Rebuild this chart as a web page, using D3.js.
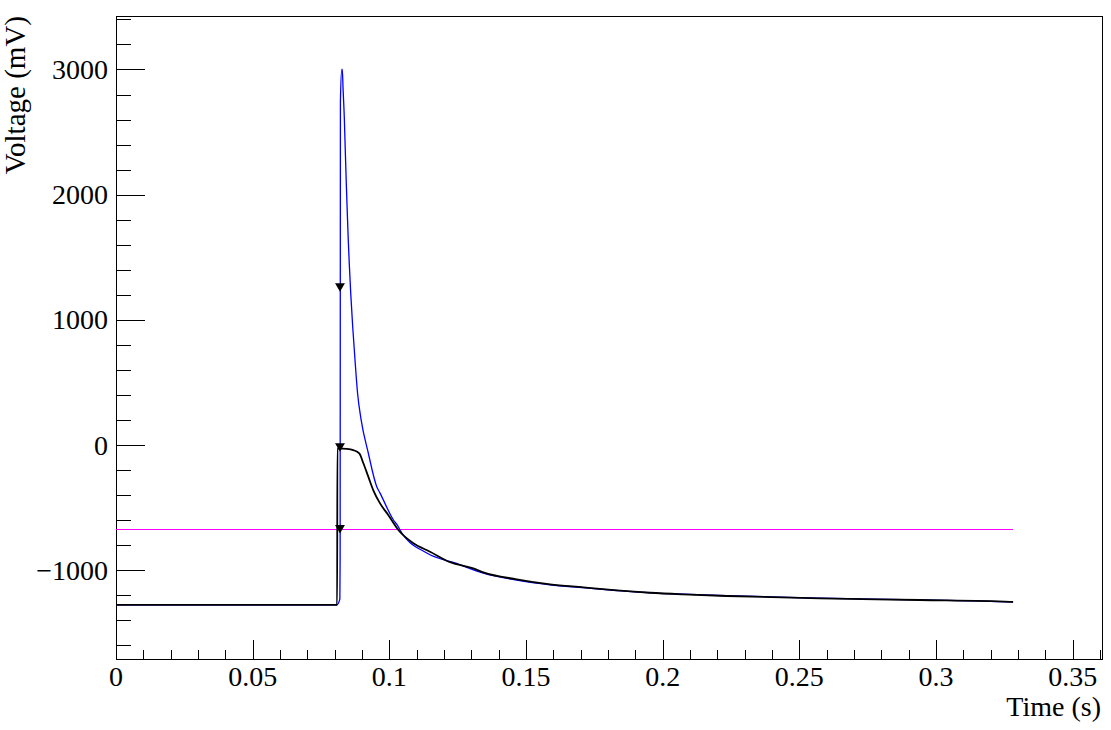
<!DOCTYPE html>
<html>
<head>
<meta charset="utf-8">
<script src="https://cdn.jsdelivr.net/npm/d3@7"></script>
<style>
  html, body { margin: 0; padding: 0; background: #fff; }
  svg { display: block; }
  text { font-family: "Liberation Serif", "Times New Roman", serif; fill: #000; }
</style>
</head>
<body>
<svg id="chart" width="1111" height="730"></svg>
<script>
// ---- data ----
const blueT = [0, 0.0808, 0.0819, 0.0820, 0.0821, 0.0826, 0.0828, 0.08305, 0.08353, 0.08389, 0.08426, 0.08462, 0.08499, 0.08535, 0.08587, 0.08660, 0.08744, 0.08837, 0.0897, 0.0923, 0.0954, 0.0966, 0.1015, 0.1033, 0.1039, 0.1137, 0.1246, 0.1344, 0.1466, 0.1588, 0.1710, 0.1832, 0.1954, 0.2075, 0.2234, 0.2576, 0.2941, 0.3271, 0.3282];
const blueV = [-1275, -1275, -1230, -900, 2740, 3000, 3000, 2859, 2612, 2348, 2085, 1853, 1630, 1446, 1214, 946, 680, 416, 200, -63, -332, -383, -598, -652, -678, -862, -945, -1022, -1078, -1115, -1138, -1161, -1180, -1190, -1203, -1222, -1236, -1252, -1253];

const blackT = [0, 0.0809, 0.0810, 0.0845, 0.0868, 0.0890, 0.0905, 0.0923, 0.0941, 0.0966, 0.0996, 0.1033, 0.1088, 0.1149, 0.1222, 0.1307, 0.1344, 0.1466, 0.1588, 0.1710, 0.1832, 0.1954, 0.2075, 0.2234, 0.2576, 0.2941, 0.3271, 0.3282];
const blackV = [-1275, -1275, -26, -30, -40, -66, -145, -252, -359, -465, -558, -678, -784, -851, -935, -984, -1016, -1072, -1112, -1136, -1160, -1179, -1192, -1205, -1224, -1237, -1251, -1252];

const markerT = [0.08195, 0.08195, 0.08195];
const markerV = [1271, -7, -660];

const thresholdV = -670;
const thresholdT = [0, 0.3282];

const xMajorTicks = [0, 0.05, 0.1, 0.15, 0.2, 0.25, 0.3, 0.35];
const xTickLabels = ["0", "0.05", "0.1", "0.15", "0.2", "0.25", "0.3", "0.35"];
const yMajorTicks = [-1000, 0, 1000, 2000, 3000];
const yTickLabels = ["\u22121000", "0", "1000", "2000", "3000"];

// ---- layout ----
const pL = 116, pR = 1102, pT = 16, pB = 659;
const svg = d3.select("#chart");

const x = d3.scaleLinear().domain([0, 0.36073]).range([pL, pR]);
const y = d3.scaleLinear().domain([-1708, 3427]).range([pB, pT]);

// frame
svg.append("rect")
  .attr("x", pL + 0.5).attr("y", pT + 0.5)
  .attr("width", pR - pL).attr("height", pB - pT)
  .attr("fill", "none").attr("stroke", "#000").attr("stroke-width", 1)
  .attr("shape-rendering", "crispEdges");

// x axis ticks
const xMinor = d3.range(0, 36.5, 1).map(d => d / 100);
const xAxisMinor = d3.axisTop(x).tickValues(xMinor).tickSize(9).tickFormat("");
const xAxisMajor = d3.axisTop(x).tickValues(xMajorTicks).tickSize(19).tickFormat("");
[xAxisMinor, xAxisMajor].forEach(ax => {
  const g = svg.append("g").attr("transform", `translate(0,${pB})`).call(ax);
  g.select(".domain").remove();
  g.selectAll("line").attr("stroke", "#000").attr("shape-rendering", "crispEdges");
});
svg.append("g").selectAll("text").data(xMajorTicks).join("text")
  .attr("x", d => x(d)).attr("y", 686)
  .attr("text-anchor", "middle").attr("font-size", 28)
  .text((d, i) => xTickLabels[i]);

// y axis ticks
const yMinor = d3.range(-1600, 3401, 200);
const yAxisMinor = d3.axisRight(y).tickValues(yMinor).tickSize(15).tickFormat("");
const yAxisMajor = d3.axisRight(y).tickValues(yMajorTicks).tickSize(29).tickFormat("");
[yAxisMinor, yAxisMajor].forEach(ax => {
  const g = svg.append("g").attr("transform", `translate(${pL},0)`).call(ax);
  g.select(".domain").remove();
  g.selectAll("line").attr("stroke", "#000").attr("shape-rendering", "crispEdges");
});
svg.append("g").selectAll("text").data(yMajorTicks).join("text")
  .attr("x", 108).attr("y", d => y(d) + 9.5)
  .attr("text-anchor", "end").attr("font-size", 28)
  .text((d, i) => yTickLabels[i]);

// axis titles
svg.append("text").attr("x", 1101).attr("y", 716)
  .attr("text-anchor", "end").attr("font-size", 28).text("Time (s)");
svg.append("text").attr("transform", "translate(25,16) rotate(-90)")
  .attr("text-anchor", "end").attr("font-size", 29).text("Voltage (mV)");

// threshold line
svg.append("line")
  .attr("x1", x(thresholdT[0])).attr("x2", x(thresholdT[1]))
  .attr("y1", Math.round(y(thresholdV)) + 0.5).attr("y2", Math.round(y(thresholdV)) + 0.5)
  .attr("stroke", "#ff00ff").attr("stroke-width", 1);

// series
const line = d3.line().curve(d3.curveMonotoneX).x(d => x(d[0])).y(d => y(d[1]));
const blue = blueT.map((t, i) => [t, blueV[i]]);
const black = blackT.map((t, i) => [t, blackV[i]]);

svg.append("path").datum(blue).attr("d", line)
  .attr("fill", "none").attr("stroke", "#0000ff").attr("stroke-width", 1.3);
svg.append("path").datum(black).attr("d", line)
  .attr("fill", "none").attr("stroke", "#000").attr("stroke-width", 1.8);

// markers (downward triangles)
const tri = d3.symbol().type(d3.symbolTriangle).size(42);
svg.append("g").selectAll("path").data(markerT.map((t, i) => [t, markerV[i]])).join("path")
  .attr("d", tri)
  .attr("transform", d => `translate(${x(d[0])},${y(d[1])}) rotate(180)`)
  .attr("fill", "#000");
</script>
</body>
</html>
